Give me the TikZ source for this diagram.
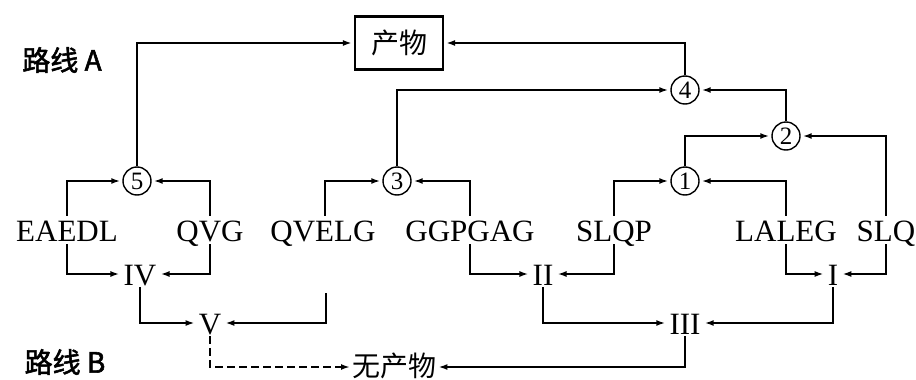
\documentclass[tikz,border=0pt]{standalone}
\usepackage{fontspec}
\setmainfont{Liberation Serif}
\newfontfamily\cjk{Noto Sans CJK SC}
\newfontfamily\cjkb[FakeBold=2]{Noto Sans CJK SC}
\usetikzlibrary{arrows.meta}
\begin{document}
\begin{tikzpicture}[x=1pt,y=-1pt,
 line/.style={line width=2pt},
 arr/.style={line, -{Latex[length=9pt,width=6pt]}, shorten >=2pt},
 pep/.style={font=\fontsize{31}{31}\selectfont, inner sep=3pt, text height=22pt, text depth=0pt},
 num/.style={font=\fontsize{31}{31}\selectfont, inner sep=2pt, text height=22pt, text depth=0pt},
 junc/.style={circle, draw, line width=1.4pt, minimum size=28pt, inner sep=0pt, font=\fontsize{25}{25}\selectfont},
 lab/.style={font=\cjkb\fontsize{28}{28}\selectfont, inner sep=0pt},
 prodbox/.style={draw, line width=2.2pt, minimum width=88pt, minimum height=53pt, inner sep=0pt, font=\cjk\fontsize{28}{28}\selectfont}
]
\useasboundingbox (0,0) rectangle (916,380);
% labels
\node[lab] (ra) at (62,60) {路线 A};
\node[lab] (rb) at (65,362) {路线 B};
% product
\node[prodbox] (prod) at (399,43) {产物};
\node[font=\cjk\fontsize{28}{28}\selectfont, inner sep=0pt, text height=20pt, text depth=1pt, anchor=west] (noprod) at (352,367) {无产物};
% junctions
\node[junc] (c4) at (685,90) {4};
\node[junc] (c2) at (786,136) {2};
\node[junc] (c1) at (685,181) {1};
\node[junc] (c3) at (397,181) {3};
\node[junc] (c5) at (137,181) {5};
% peptides
\node[pep] (eaedl) at (67,230) {EAEDL};
\node[pep] (qvg) at (210,230) {QVG};
\node[pep] (qvelg) at (323,230) {QVELG};
\node[pep] (ggpgag) at (470,230) {GGPGAG};
\node[pep] (slqp) at (614,230) {SLQP};
\node[pep] (laleg) at (786,230) {LALEG};
\node[pep] (slq) at (886,230) {SLQ};
% numerals
\node[num] (iv) at (140,274) {IV};
\node[num] (ii) at (543,274) {II};
\node[num] (i) at (833,274) {I};
\node[num] (v) at (210,323) {V};
\node[num] (iii) at (685,323) {III};
\coordinate (qcol) at (326,293);
% route A
\draw[arr] (c5.north) |- (prod.west);
\draw[arr] (c4.north) |- (prod.east);
\draw[arr] (c3.north) |- (c4.west);
\draw[arr] (c2.north) |- (c4.east);
\draw[arr] (c1.north) |- (c2.west);
\draw[arr] (slq.north) |- (c2.east);
\draw[arr] (slqp.north) |- (c1.west);
\draw[arr] (laleg.north) |- (c1.east);
\draw[arr] ([xshift=2pt]qvelg.north) |- (c3.west);
\draw[arr] (ggpgag.north) |- (c3.east);
\draw[arr] (eaedl.north) |- (c5.west);
\draw[arr] (qvg.north) |- (c5.east);
% route B
\draw[arr] (eaedl.south) |- (iv.west);
\draw[arr] (qvg.south) |- (iv.east);
\draw[arr] (ggpgag.south) |- (ii.west);
\draw[arr] (slqp.south) |- (ii.east);
\draw[arr] (laleg.south) |- (i.west);
\draw[arr] (slq.south) |- (i.east);
\draw[arr] (iv.south) |- (v.west);
\draw[arr] (qcol) |- (v.east);
\draw[arr] (ii.south) |- (iii.west);
\draw[arr] (i.south) |- (iii.east);
\draw[arr, dash pattern=on 8pt off 4pt] (v.south) |- (noprod.west);
\draw[arr] (iii.south) |- (noprod.east);
\end{tikzpicture}
\end{document}
